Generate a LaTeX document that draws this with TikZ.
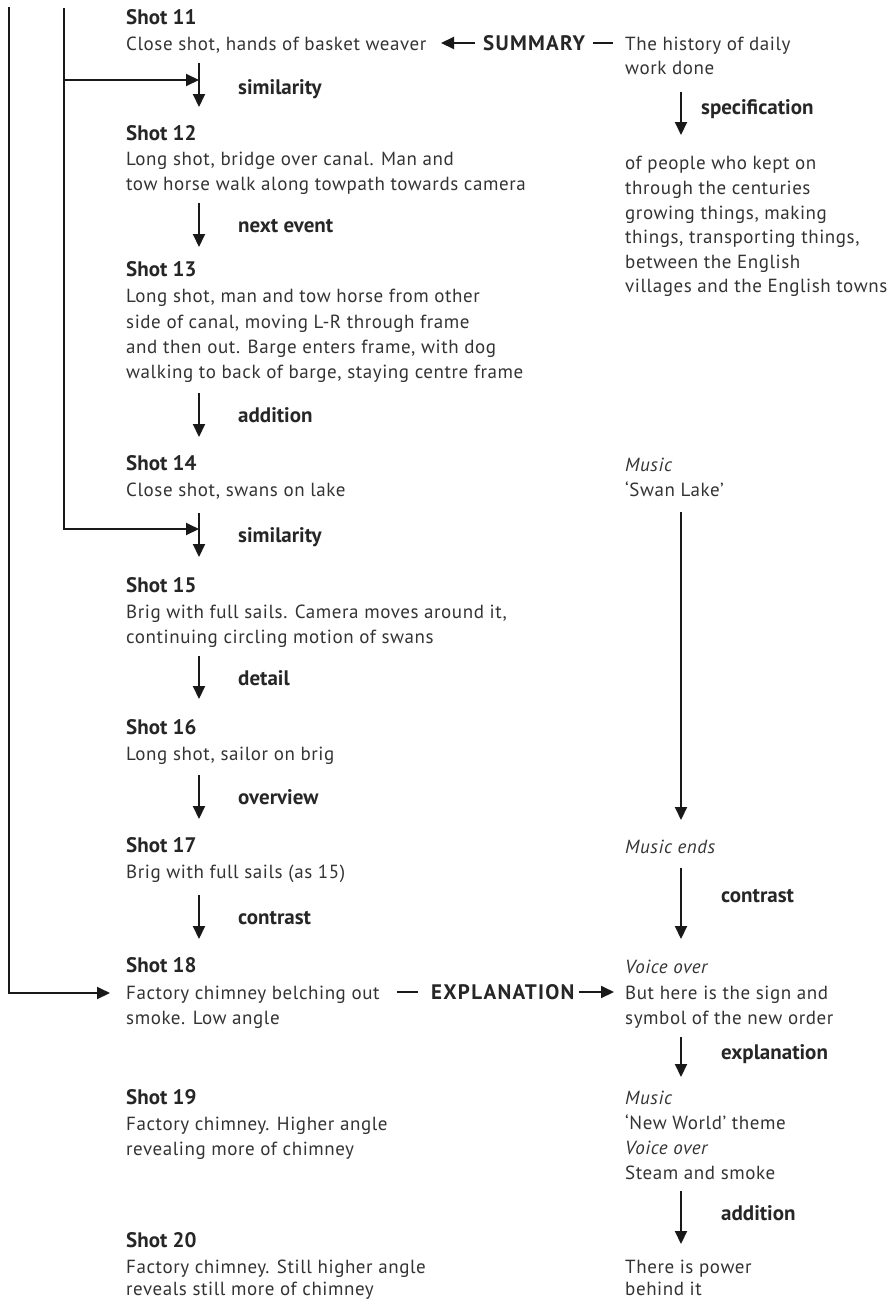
\documentclass[tikz,border=0pt]{standalone}
\usepackage{fontspec}
\setmainfont{PT Sans}
\newfontfamily\bodyfont{PT Sans}[LetterSpace=3]
\newfontfamily\capsfont{PT Sans}[LetterSpace=6]
\usetikzlibrary{arrows.meta}
\begin{document}
\begin{tikzpicture}[x=1pt,y=-1pt,
  body/.style={anchor=base west, inner sep=0pt, font=\fontsize{19}{25}\bodyfont, text=black!80},
  ital/.style={body, font=\fontsize{19}{25}\bodyfont\itshape},
  hd/.style={anchor=base west, inner sep=0pt, font=\fontsize{21}{25}\selectfont\bfseries, text=black!85},
  caps/.style={hd, font=\fontsize{21}{25}\capsfont\bfseries},
  conn/.style={line width=2pt, draw=black!90, line join=miter},
  arr/.style={conn, -{Triangle[length=13pt,width=12pt]}},
]
\useasboundingbox (0,0) rectangle (895,1299);

% ---------- left column ----------
\node[hd]   (s11h) at (126,24)  {Shot 11};
\node[body] (s11a) at (126,50)  {Close shot, hands of basket weaver};
\node[hd]   (s12h) at (126,140) {Shot 12};
\node[body] (s12a) at (126,165) {Long shot, bridge over canal. Man and};
\node[body] (s12b) at (126,190) {tow horse walk along towpath towards camera};
\node[hd]   (s13h) at (126,276) {Shot 13};
\node[body] (s13a) at (126,302) {Long shot, man and tow horse from other};
\node[body] (s13b) at (126,328) {side of canal, moving L-R through frame};
\node[body] (s13c) at (126,353) {and then out. Barge enters frame, with dog};
\node[body] (s13d) at (126,378) {walking to back of barge, staying centre frame};
\node[hd]   (s14h) at (126,470) {Shot 14};
\node[body] (s14a) at (126,496) {Close shot, swans on lake};
\node[hd]   (s15h) at (126,592) {Shot 15};
\node[body] (s15a) at (126,618) {Brig with full sails. Camera moves around it,};
\node[body] (s15b) at (126,643) {continuing circling motion of swans};
\node[hd]   (s16h) at (126,734) {Shot 16};
\node[body] (s16a) at (126,760) {Long shot, sailor on brig};
\node[hd]   (s17h) at (126,852) {Shot 17};
\node[body] (s17a) at (126,878) {Brig with full sails (as 15)};
\node[hd]   (s18h) at (126,972) {Shot 18};
\node[body] (s18a) at (126,999) {Factory chimney belching out};
\node[body] (s18b) at (126,1024) {smoke. Low angle};
\node[hd]   (s19h) at (126,1104) {Shot 19};
\node[body] (s19a) at (126,1130) {Factory chimney. Higher angle};
\node[body] (s19b) at (126,1155) {revealing more of chimney};
\node[hd]   (s20h) at (126,1247) {Shot 20};
\node[body] (s20a) at (126,1273) {Factory chimney. Still higher angle};
\node[body] (s20b) at (126,1295) {reveals still more of chimney};

% left arrow labels
\node[hd] (lsim1) at (238,94)  {similarity};
\node[hd] (lnext) at (238,232) {next event};
\node[hd] (ladd)  at (238,422) {addition};
\node[hd] (lsim2) at (238,542) {similarity};
\node[hd] (ldet)  at (238,685) {detail};
\node[hd] (lover) at (238,804) {overview};
\node[hd] (lcon)  at (238,924) {contrast};

% ---------- right column ----------
\node[body] (r1a) at (625,50)  {The history of daily};
\node[body] (r1b) at (625,74)  {work done};
\node[body] (r2a) at (625,169) {of people who kept on};
\node[body] (r2b) at (625,194) {through the centuries};
\node[body] (r2c) at (625,219) {growing things, making};
\node[body] (r2d) at (625,243) {things, transporting things,};
\node[body] (r2e) at (625,268) {between the English};
\node[body] (r2f) at (625,292) {villages and the English towns};
\node[ital] (rmus1) at (625,471) {Music};
\node[body] (rswan) at (625,496) {‘Swan Lake’};
\node[ital] (rmend) at (625,853) {Music ends};
\node[ital] (rvo1)  at (625,973) {Voice over};
\node[body] (rbut)  at (625,999) {But here is the sign and};
\node[body] (rsym)  at (625,1024) {symbol of the new order};
\node[ital] (rmus2) at (625,1104) {Music};
\node[body] (rnw)   at (625,1129) {‘New World’ theme};
\node[ital] (rvo2)  at (625,1154) {Voice over};
\node[body] (rstm)  at (625,1179) {Steam and smoke};
\node[body] (rpow)  at (625,1273) {There is power};
\node[body] (rbeh)  at (625,1295) {behind it};

% right arrow labels
\node[hd] (lspec) at (701,114)  {specification};
\node[hd] (rcon)  at (721,902)  {contrast};
\node[hd] (rexp)  at (721,1059) {explanation};
\node[hd] (radd)  at (721,1220) {addition};

% cross labels
\node[caps] (summ) at (483,50)  {SUMMARY};
\node[caps] (expl) at (431,999) {EXPLANATION};

% ---------- coordinates ----------
\coordinate (a1s) at (199,63);   \coordinate (a1e) at (199,107);  \coordinate (a1m) at (199,80);
\coordinate (a2s) at (199,203);  \coordinate (a2e) at (199,247);
\coordinate (a3s) at (199,393);  \coordinate (a3e) at (199,437);
\coordinate (a4s) at (199,513);  \coordinate (a4e) at (199,557);  \coordinate (a4m) at (199,529);
\coordinate (a5s) at (199,656);  \coordinate (a5e) at (199,699);
\coordinate (a6s) at (199,775);  \coordinate (a6e) at (199,819);
\coordinate (a7s) at (199,895);  \coordinate (a7e) at (199,939);
\coordinate (b1s) at (681,92);   \coordinate (b1e) at (681,135);
\coordinate (b2s) at (681,512);  \coordinate (b2e) at (681,820);
\coordinate (b3s) at (681,868);  \coordinate (b3e) at (681,939);
\coordinate (b4s) at (681,1037); \coordinate (b4e) at (681,1077);
\coordinate (b5s) at (681,1191); \coordinate (b5e) at (681,1244);
\coordinate (v1t) at (9,7);      \coordinate (v1e) at (110,993);
\coordinate (v2t) at (64,8);     \coordinate (v2b) at (64,80);
\coordinate (sms) at (475,43);   \coordinate (sme) at (441,43);
\coordinate (sds) at (593,43);   \coordinate (sde) at (613,43);
\coordinate (eds) at (397,992);  \coordinate (ede) at (418,992);
\coordinate (eas) at (579,992);  \coordinate (eae) at (614,992);

% ---------- connectors ----------
\foreach \a in {a1,a2,a3,a4,a5,a6,a7,b1,b2,b3,b4,b5}
  \draw[arr] (\a s) -- (\a e);
\draw[arr] (v1t) |- (v1e);
\draw[arr] (v2t) |- (a4m);
\draw[arr] (v2b) -- (a1m);
\draw[arr] (sms) -- (sme);
\draw[conn] (sds) -- (sde);
\draw[conn] (eds) -- (ede);
\draw[arr] (eas) -- (eae);
\end{tikzpicture}
\end{document}
